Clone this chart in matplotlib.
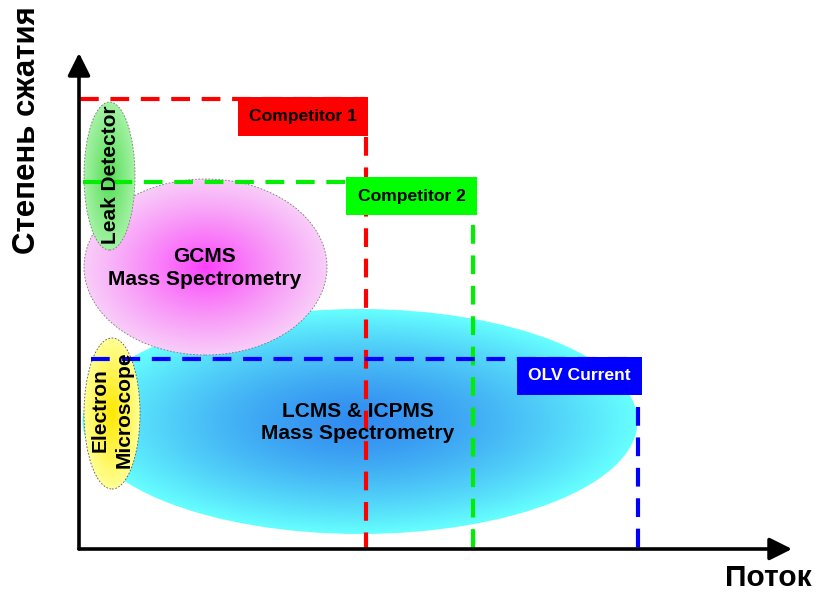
import numpy as np
import matplotlib
matplotlib.use('Agg')
import matplotlib.pyplot as plt
from matplotlib.patches import Ellipse, Rectangle, FancyArrowPatch

plt.rcParams['font.family'] = ['Liberation Sans', 'DejaVu Sans']
plt.rcParams['font.weight'] = 'bold'

# technique regions (x = flow, y = compression), in chart units
techNames = ['LCMS & ICPMS\nMass Spectrometry', 'GCMS\nMass Spectrometry',
             'Electron\nMicroscope', 'Leak Detector']
techX = [281, 126.5, 33, 30.5]
techY = [127.5, 282, 135.5, 373]
techW = [555, 243, 56, 51]
techH = [225, 176, 151, 148]

# competitor envelopes
compNames = ['Competitor 1', 'Competitor 2', 'OLV Current']
compFlow = [287, 394, 559]
compRatio = [450, 367, 190]
lineStart = [1, 4, 12]

xMax = 713
yMax = 496


def gradEllipse(ax, cx, cy, w, h, cIn, cOut, z, power=1.0, edge='none'):
    n = 300
    xs = np.linspace(cx - w / 2, cx + w / 2, n)
    ys = np.linspace(cy - h / 2, cy + h / 2, n)
    X, Y = np.meshgrid(xs, ys)
    r = np.sqrt(((X - cx) / (w / 2)) ** 2 + ((Y - cy) / (h / 2)) ** 2)
    t = np.clip(r, 0, 1) ** power
    cIn = np.array(cIn) / 255.0
    cOut = np.array(cOut) / 255.0
    img = cIn[None, None, :] * (1 - t[..., None]) + cOut[None, None, :] * t[..., None]
    im = ax.imshow(img, extent=(cx - w / 2, cx + w / 2, cy - h / 2, cy + h / 2),
                   origin='lower', zorder=z, interpolation='bilinear', aspect='auto')
    e = Ellipse((cx, cy), w, h, facecolor='none', edgecolor=edge, lw=0.6,
                linestyle=(0, (2, 2)), zorder=z + 0.1)
    ax.add_patch(e)
    im.set_clip_path(e)


fig = plt.figure(figsize=(8.17, 5.93), dpi=100)
ax = fig.add_axes([0, 0, 1, 1])
ax.axis('off')

colIn = [(50, 140, 240), (250, 60, 250), (255, 232, 0), (85, 222, 85)]
colOut = [(102, 255, 255), (248, 205, 248), (255, 255, 150), (165, 242, 165)]
powers = [1.4, 0.8, 1.0, 1.0]
edges = ['none', '#777777', '#555555', '#777777']
for i in range(len(techNames)):
    gradEllipse(ax, techX[i], techY[i], techW[i], techH[i], colIn[i], colOut[i],
                1 + i, powers[i], edges[i])

lineCols = ['#ff0000', '#00ee00', '#0000ff']
boxCols = ['#ff0000', '#00ff00', '#0000ff']
boxW = [130, 131, 125]
boxH = [39, 38, 38]
boxTop = [452, 372, 192]
vertTop = [412, 324, 142]
txtCols = ['black', 'black', 'white']
for i in range(3):
    ax.plot([lineStart[i], compFlow[i]], [compRatio[i], compRatio[i]], color=lineCols[i],
            lw=3, dashes=(4.5, 2.8), zorder=6, solid_capstyle='butt')
    ax.plot([compFlow[i], compFlow[i]], [vertTop[i], 0], color=lineCols[i],
            lw=3, dashes=(4.5, 2.8), zorder=6)
    x0 = compFlow[i] + 2 - boxW[i] if i == 0 else compFlow[i] + 4 - boxW[i]
    ax.add_patch(Rectangle((x0, boxTop[i] - boxH[i]), boxW[i], boxH[i],
                           facecolor=boxCols[i], edgecolor='none', zorder=7))
    ax.text(x0 + boxW[i] / 2, boxTop[i] - boxH[i] / 2, compNames[i],
            color=txtCols[i], fontsize=12.6, fontweight='bold',
            ha='center', va='center', zorder=8)

# technique labels
ax.text(278.5, 126.5, techNames[0], fontsize=15, ha='center', va='center',
        linespacing=1.25, zorder=9)
ax.text(126, 281, techNames[1], fontsize=15, ha='center', va='center',
        linespacing=1.25, zorder=9)
ax.text(33, 139, techNames[2], fontsize=15, ha='center', va='center',
        rotation=90, linespacing=1.35, zorder=9)
ax.text(32, 374, techNames[3], fontsize=15, ha='center', va='center',
        rotation=90, zorder=9)

# axes with arrows
for tip in [(0, yMax), (xMax, 0)]:
    a = FancyArrowPatch((0, 0), tip, arrowstyle='-|>', mutation_scale=34,
                        lw=2.6, color='black', shrinkA=0, shrinkB=0, zorder=10)
    ax.add_patch(a)

ax.text(-52, 419, 'Степень сжатия', fontsize=22.5, rotation=90, ha='center',
        va='center')
ax.text(689, -37, 'Поток', fontsize=21.5, ha='center', va='baseline')

ax.set_xlim(-79, 738)
ax.set_ylim(-44, 549)

fig.savefig('out.png', dpi=100)
